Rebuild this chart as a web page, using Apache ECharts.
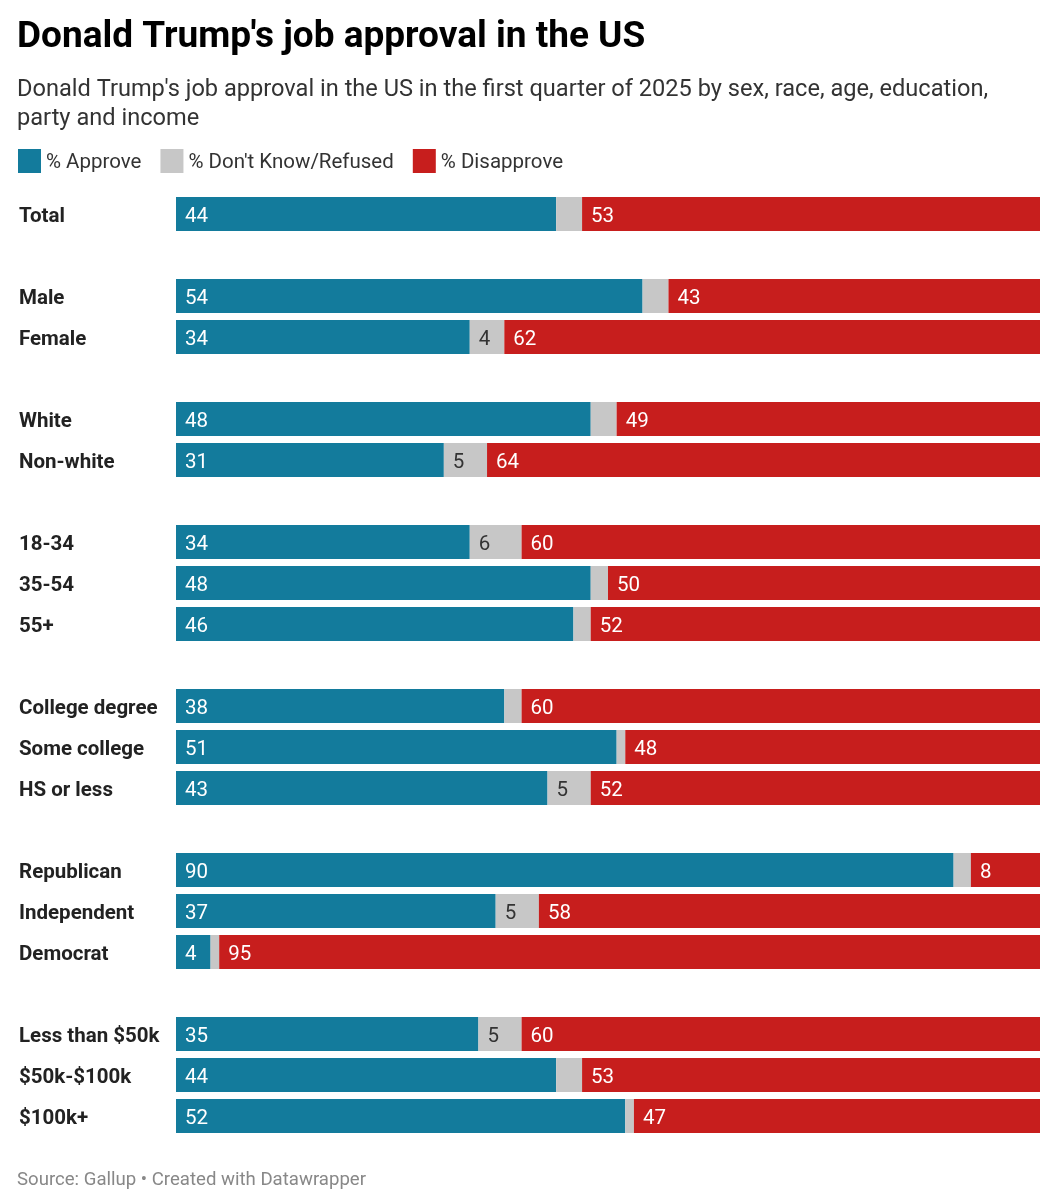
<!DOCTYPE html>
<html>
<head>
<meta charset="utf-8">
<script src="https://cdn.jsdelivr.net/npm/echarts@6/dist/echarts.min.js"></script>
<style>
html,body{margin:0;padding:0;background:#fff;}
#chart{width:1059px;height:1200px;}
</style>
</head>
<body>
<div id="chart"></div>
<script>
// Data
var categories = ['Total','Male','Female','White','Non-white','18-34','35-54','55+','College degree','Some college','HS or less','Republican','Independent','Democrat','Less than $50k','$50k-$100k','$100k+'];
var approve    = [44, 54, 34, 48, 31, 34, 48, 46, 38, 51, 43, 90, 37, 4, 35, 44, 52];
var dontKnow   = [3, 3, 4, 3, 5, 6, 2, 2, 2, 1, 5, 2, 5, 1, 5, 3, 1];
var disapprove = [53, 43, 62, 49, 64, 60, 50, 52, 60, 48, 52, 8, 58, 95, 60, 53, 47];
var groupEnds = [0, 2, 4, 7, 10, 13]; // index after which a blank row is inserted

// build rows with blank spacer rows
var rowCats = [], rowA = [], rowD = [], rowN = [];
categories.forEach(function(c, i){
  rowCats.push(c); rowA.push(approve[i]); rowD.push(dontKnow[i]); rowN.push(disapprove[i]);
  if (groupEnds.indexOf(i) >= 0) {
    rowCats.push(' '.repeat(rowCats.length)); rowA.push(null); rowD.push(null); rowN.push(null);
  }
});

var FONT = 'Roboto';
var chart = echarts.init(document.getElementById('chart'), null, {renderer:'canvas'});
var lbl = function(color, minShow){
  return {
    show: true, position: 'insideLeft', distance: 9, offset: [0, 2.5],
    color: color, fontFamily: FONT, fontSize: 20.5,
    formatter: function(p){ return (p.value == null || p.value < minShow) ? '' : String(p.value); }
  };
};
chart.setOption({
  animation: false,
  textStyle: {fontFamily: FONT},
  title: [
    {text: "Donald Trump's job approval in the US", left: 17, top: 19, padding: 0,
     textStyle: {fontFamily: FONT, fontSize: 37, fontWeight: 'bold', color: '#000'}},
    {text: "Donald Trump's job approval in the US in the first quarter of 2025 by sex, race, age, education,\nparty and income", left: 17, top: 76, padding: 0,
     textStyle: {fontFamily: FONT, fontSize: 23.6, fontWeight: 'normal', color: '#333', lineHeight: 28.5}},
    {text: 'Source: Gallup • Created with Datawrapper', left: 17, top: 1171, padding: 0,
     textStyle: {fontFamily: FONT, fontSize: 18.6, fontWeight: 'normal', color: '#888'}}
  ],
  legend: {
    left: 18, top: 149, padding: 0, icon: 'rect', itemWidth: 23, itemHeight: 24, itemGap: 19,
    selectedMode: false,
    formatter: function(n){ return '{t|' + n + '}'; },
    textStyle: {fontFamily: FONT, fontSize: 20.5, color: '#333',
      rich: {t: {fontFamily: FONT, fontSize: 20.5, color: '#333', padding: [4,0,0,0]}}},
    data: ['% Approve', "% Don't Know/Refused", '% Disapprove']
  },
  grid: {left: 176, right: 19, top: 193.5, bottom: 63.5, containLabel: false},
  xAxis: {type: 'value', min: 0, max: 100, show: false},
  yAxis: {
    type: 'category', inverse: true, data: rowCats,
    axisLine: {show: false}, axisTick: {show: false}, splitLine: {show: false},
    axisLabel: {align: 'left', margin: 157, fontFamily: FONT, fontSize: 20.5, fontWeight: 'bold', color: '#222',
      formatter: function(v){ return '{c|' + v + '}'; },
      rich: {c: {fontFamily: FONT, fontSize: 20.5, fontWeight: 'bold', color: '#222', padding: [5,0,0,0]}}}
  },
  series: [
    {name: '% Approve', type: 'bar', stack: 't', data: rowA, barWidth: 34,
     itemStyle: {color: '#137b9c'}, label: lbl('#fff', 0)},
    {name: "% Don't Know/Refused", type: 'bar', stack: 't', data: rowD, barWidth: 34,
     itemStyle: {color: '#c7c7c7'}, label: lbl('#333', 4)},
    {name: '% Disapprove', type: 'bar', stack: 't', data: rowN, barWidth: 34,
     itemStyle: {color: '#c71e1d'}, label: lbl('#fff', 0)}
  ]
});
</script>
</body>
</html>
